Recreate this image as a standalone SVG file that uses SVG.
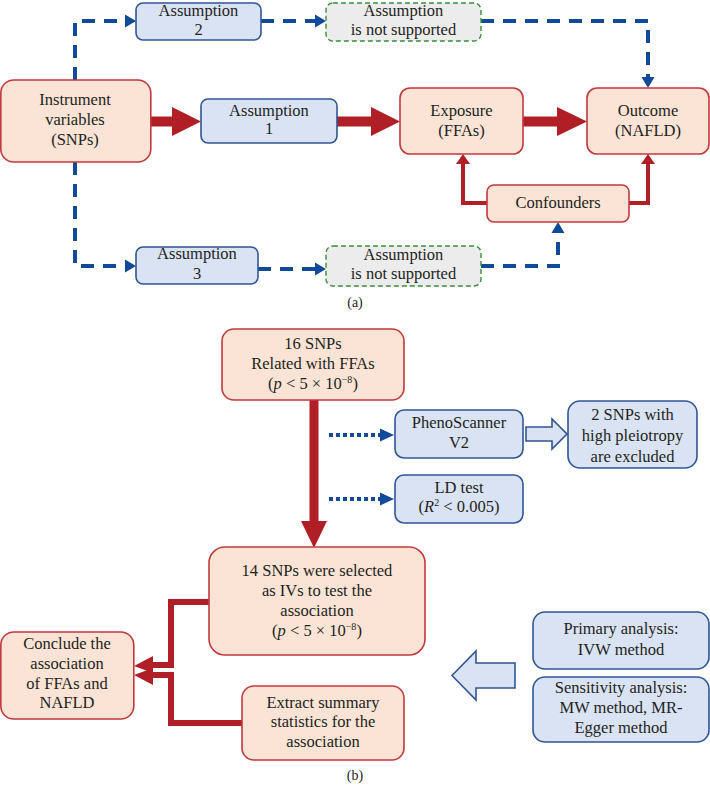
<svg xmlns="http://www.w3.org/2000/svg" width="710" height="790" viewBox="0 0 710 790" font-family="'Liberation Serif', 'DejaVu Serif', serif">
<style>
text{font-family:'Liberation Serif','DejaVu Serif',serif;font-size:16.5px;fill:#231f20;text-anchor:middle}
.red{fill:#fbe4d6;stroke:#c4393d;stroke-width:1.6}
.blue{fill:#dae3f3;stroke:#2f5597;stroke-width:1.6}
.green{fill:#ececec;stroke:#3a8f3a;stroke-width:1.4;stroke-dasharray:5 3}
.thick{stroke:#b01f26;fill:none}
.rh{fill:#b01f26}
.dash{stroke:#114a99;stroke-width:4;fill:none;stroke-dasharray:13 9}
.dot{stroke:#114a99;stroke-width:4;fill:none;stroke-dasharray:4 3}
.bh{fill:#114a99}
.lbl{font-size:14px}
</style>
<g id="connectors">
<line class="thick" x1="151" y1="121.5" x2="174" y2="121.5" stroke-width="10"/>
<polygon class="rh" points="172,107 201,121.5 172,136"/>
<line class="thick" x1="337" y1="121.5" x2="373" y2="121.5" stroke-width="10"/>
<polygon class="rh" points="371,107 400,121.5 371,136"/>
<line class="thick" x1="523" y1="121.5" x2="559" y2="121.5" stroke-width="10"/>
<polygon class="rh" points="557,107 587,121.5 557,136"/>
<path class="thick" stroke-width="4" d="M487,203 H463 V162"/>
<polygon class="rh" points="456,164 463,154 470,164"/>
<path class="thick" stroke-width="4" d="M629,203 H648 V162"/>
<polygon class="rh" points="641,164 648,154 655,164"/>
<path class="dash" d="M75,80 V21 H126"/>
<polygon class="bh" points="125,14.5 136,21 125,27.5"/>
<path class="dash" d="M261,21 H316"/>
<polygon class="bh" points="315,14.5 326,21 315,27.5"/>
<path class="dash" d="M481,21 H648 V78"/>
<polygon class="bh" points="641.5,77 648,88 654.5,77"/>
<path class="dash" d="M75,162 V266 H126"/>
<polygon class="bh" points="125,259.5 136,266 125,272.5"/>
<path class="dash" d="M258,269 H316"/>
<polygon class="bh" points="315,262.5 326,269 315,275.5"/>
<path class="dash" d="M481,266 H558 V232"/>
<polygon class="bh" points="551.5,233 558,222 564.5,233"/>
<line class="thick" x1="314" y1="400" x2="314" y2="523" stroke-width="9"/>
<polygon class="rh" points="301,521 314,548 327,521"/>
<path class="dot" d="M329,435 H381"/>
<polygon class="bh" points="380,428.5 394,435 380,441.5"/>
<path class="dot" d="M329,499 H381"/>
<polygon class="bh" points="380,492.5 394,499 380,505.5"/>
<polygon class="blue" points="526,427 552,427 552,419 567,434 552,449 552,441 526,441"/>
<path class="thick" stroke-width="6" d="M209,602 H171 V665 H150"/>
<polygon class="rh" points="134,666 153,656 153,673"/>
<path class="thick" stroke-width="6" d="M242,723 H171 V675 H150"/>
<polygon class="rh" points="134,675 153,668 153,685"/>
<polygon class="blue" points="452,675.5 476,651 476,663 515,663 515,688 476,688 476,700"/>
</g>
<g id="iv"><rect class="red" x="0.8" y="80" width="150" height="82" rx="13"/>
<text x="75" y="105">Instrument</text><text x="75" y="125">variables</text><text x="75" y="145">(SNPs)</text></g>
<g id="assumption2"><rect class="blue" x="136" y="3" width="125" height="37" rx="7"/>
<text x="198.5" y="16">Assumption</text><text x="198.5" y="35">2</text></g>
<g id="notsupported1"><rect class="green" x="326" y="3" width="155" height="38" rx="7"/>
<text x="403.5" y="16">Assumption</text><text x="403.5" y="35">is not supported</text></g>
<g id="assumption1"><rect class="blue" x="201" y="99" width="136" height="44" rx="7"/>
<text x="269" y="116">Assumption</text><text x="269" y="134">1</text></g>
<g id="exposure"><rect class="red" x="400" y="88" width="123" height="66" rx="10"/>
<text x="461.5" y="116">Exposure</text><text x="461.5" y="136">(FFAs)</text></g>
<g id="outcome"><rect class="red" x="587" y="88" width="122" height="66" rx="10"/>
<text x="648" y="116">Outcome</text><text x="648" y="136">(NAFLD)</text></g>
<g id="confounders"><rect class="red" x="487" y="185" width="142" height="37" rx="7"/>
<text x="558" y="208">Confounders</text></g>
<g id="assumption3"><rect class="blue" x="136" y="247" width="122" height="37" rx="7"/>
<text x="197" y="259">Assumption</text><text x="197" y="279">3</text></g>
<g id="notsupported2"><rect class="green" x="326" y="246" width="155" height="40" rx="7"/>
<text x="403.5" y="260">Assumption</text><text x="403.5" y="279">is not supported</text></g>
<text class="lbl" x="355" y="307">(a)</text>
<g id="snps16"><rect class="red" x="222" y="329" width="182" height="71" rx="12"/>
<text x="313" y="349">16 SNPs</text><text x="313" y="369">Related with FFAs</text>
<text x="313" y="389">(<tspan font-style="italic">p</tspan> &lt; 5 × 10<tspan font-size="10" dy="-6">−8</tspan><tspan dy="6">)</tspan></text></g>
<g id="phenoscanner"><rect class="blue" x="395" y="410" width="128" height="48" rx="9"/>
<text x="459" y="428">PhenoScanner</text><text x="459" y="448">V2</text></g>
<g id="ldtest"><rect class="blue" x="395" y="475" width="128" height="48" rx="9"/>
<text x="459" y="493">LD test</text>
<text x="459" y="512">(<tspan font-style="italic">R</tspan><tspan font-size="10" dy="-6">2</tspan><tspan dy="6"> &lt; 0.005)</tspan></text></g>
<g id="excluded"><rect class="blue" x="568" y="401" width="129" height="67" rx="12"/>
<text x="632.5" y="420">2 SNPs with</text><text x="632.5" y="441">high pleiotropy</text><text x="632.5" y="462">are excluded</text></g>
<g id="snps14"><rect class="red" x="209" y="547" width="216" height="108" rx="16"/>
<text x="317" y="576">14 SNPs were selected</text><text x="317" y="596">as IVs to test the</text><text x="317" y="616">association</text>
<text x="317" y="636">(<tspan font-style="italic">p</tspan> &lt; 5 × 10<tspan font-size="10" dy="-6">−8</tspan><tspan dy="6">)</tspan></text></g>
<g id="conclude"><rect class="red" x="0.8" y="632" width="133" height="87" rx="13"/>
<text x="67" y="649">Conclude the</text><text x="67" y="669">association</text><text x="67" y="689">of FFAs and</text><text x="67" y="708">NAFLD</text></g>
<g id="extract"><rect class="red" x="242" y="686" width="162" height="74" rx="12"/>
<text x="323" y="708">Extract summary</text><text x="323" y="727">statistics for the</text><text x="323" y="747">association</text></g>
<g id="primary"><rect class="blue" x="533" y="612" width="176" height="57" rx="12"/>
<text x="621" y="634">Primary analysis:</text><text x="621" y="655">IVW method</text></g>
<g id="sensitivity"><rect class="blue" x="533" y="677" width="176" height="65" rx="12"/>
<text x="621" y="693">Sensitivity analysis:</text><text x="621" y="713">MW method, MR-</text><text x="621" y="733">Egger method</text></g>
<text class="lbl" x="355" y="780">(b)</text>
</svg>
